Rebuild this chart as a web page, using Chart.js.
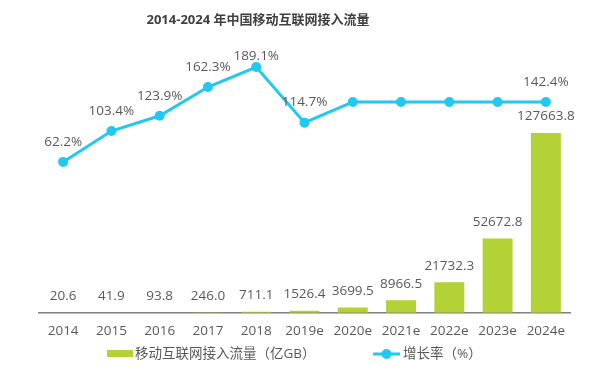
<!DOCTYPE html>
<html>
<head>
<meta charset="utf-8">
<script src="https://cdn.jsdelivr.net/npm/chart.js@4/dist/chart.umd.min.js"></script>
<style>
html,body{margin:0;padding:0;background:#fff;}
#wrap{width:616px;height:375px;position:relative;}
</style>
</head>
<body>
<div id="wrap"><canvas id="c" width="616" height="375"></canvas></div>
<script>
const titleText = '2014-2024 年中国移动互联网接入流量';
const categories = ['2014','2015','2016','2017','2018','2019e','2020e','2021e','2022e','2023e','2024e'];
const trafficValues = [20.6, 41.9, 93.8, 246.0, 711.1, 1526.4, 3699.5, 8966.5, 21732.3, 52672.8, 127663.8];
const growthValues = [62.2, 103.4, 123.9, 162.3, 189.1, 114.7, 142.4, 142.4, 142.4, 142.4, 142.4];
const growthLabelShown = [true, true, true, true, true, true, false, false, false, false, true];
const trafficName = '移动互联网接入流量（亿GB）';
const growthName = '增长率（%）';

const FONT = "'Open Sans', 'Noto Sans CJK SC', sans-serif";
const GREEN = '#B2D235';
const CYAN = '#22C8F0';
const TEXT = '#595959';

const labelsPlugin = {
  id: 'customLabels',
  afterDatasetsDraw(chart) {
    const ctx = chart.ctx;
    ctx.save();
    ctx.font = '13.5px ' + FONT;
    ctx.fillStyle = TEXT;
    ctx.textAlign = 'center';
    ctx.textBaseline = 'middle';
    const barMeta = chart.getDatasetMeta(1);
    barMeta.data.forEach((el, i) => {
      ctx.fillText(trafficValues[i].toFixed(1), el.x, el.y - 16.5);
    });
    const lineMeta = chart.getDatasetMeta(0);
    lineMeta.data.forEach((el, i) => {
      if (!growthLabelShown[i]) return;
      const y = Math.max(el.y - 20, chart.chartArea.top + 16);
      ctx.fillText(growthValues[i].toFixed(1) + '%', el.x, y);
    });
    // title
    ctx.font = 'bold 13px ' + FONT;
    ctx.fillStyle = '#404040';
    ctx.fillText(titleText, 258, 20);
    // legend
    ctx.font = '13.5px ' + FONT;
    ctx.textAlign = 'left';
    ctx.fillStyle = GREEN;
    ctx.fillRect(107, 350, 26, 7);
    ctx.fillStyle = TEXT;
    ctx.fillText(trafficName, 135, 354);
    ctx.strokeStyle = CYAN;
    ctx.lineWidth = 3;
    ctx.beginPath();
    ctx.moveTo(373, 354);
    ctx.lineTo(400, 354);
    ctx.stroke();
    ctx.fillStyle = CYAN;
    ctx.beginPath();
    ctx.arc(386.5, 354, 5, 0, Math.PI * 2);
    ctx.fill();
    ctx.fillStyle = TEXT;
    ctx.fillText(growthName, 403, 354);
    ctx.restore();
  }
};

new Chart(document.getElementById('c'), {
  data: {
    labels: categories,
    datasets: [
      {
        type: 'line',
        label: growthName,
        data: growthValues,
        yAxisID: 'yRate',
        borderColor: CYAN,
        backgroundColor: CYAN,
        borderWidth: 3,
        pointRadius: 5,
        pointBackgroundColor: CYAN,
        pointBorderWidth: 0,
        tension: 0,
        order: 0
      },
      {
        type: 'bar',
        label: trafficName,
        data: trafficValues,
        yAxisID: 'yBar',
        backgroundColor: GREEN,
        barPercentage: 0.62,
        categoryPercentage: 1.0,
        order: 1
      }
    ]
  },
  options: {
    responsive: false,
    animation: false,
    layout: { padding: { left: 39, right: 46, top: 40, bottom: 26 } },
    plugins: { legend: { display: false }, title: { display: false }, tooltip: { enabled: false } },
    scales: {
      x: {
        grid: { display: false, drawTicks: false },
        border: { display: true, color: '#808080', width: 1.5 },
        ticks: { color: TEXT, font: { family: FONT, size: 13.5 }, padding: 10, maxRotation: 0 }
      },
      yBar: { display: false, min: 0, max: 193623, position: 'left' },
      yRate: { display: false, min: -139.6, max: 225.2, position: 'right' }
    }
  },
  plugins: [labelsPlugin]
});
</script>
</body>
</html>
